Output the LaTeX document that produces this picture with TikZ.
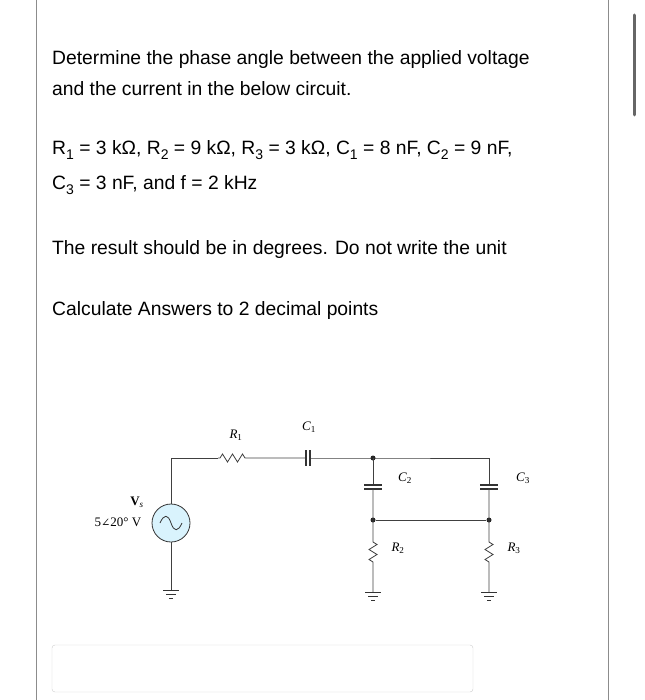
\documentclass[tikz,border=0pt]{standalone}
\usepackage{fontspec}
\setmainfont{Liberation Sans}
\newfontfamily\serif{Liberation Serif}
\newfontfamily\djvserif{DejaVu Serif}
\begin{document}
\begin{tikzpicture}[x=1pt,y=-1pt,
  txt/.style={anchor=west,inner sep=0,font=\fontsize{19.3}{22}\selectfont},
  lab/.style={inner sep=0,font=\serif\itshape\fontsize{13}{15}\selectfont},
  wire/.style={line width=0.8pt,black!75},
  dot/.style={circle,fill=black!85,inner sep=0,minimum size=5pt}]
\useasboundingbox (0,0) rectangle (644,700);
\draw[black!45,line width=0.8pt] (36,0) -- (36,700) (608,0) -- (608,700);
\draw[black!60,line width=3pt,line cap=round] (634,15) -- (634,115);
\newcommand\sbs[1]{\raisebox{-0.45ex}{\fontsize{14}{16}\selectfont #1}}
\node[txt] (t1) at (52,60) {Determine the phase angle between the applied voltage};
\node[txt] (t2) at (52,89) {and the current in the below circuit.};
\node[txt] (t3) at (52,150) {R\sbs1 = 3 kΩ, R\sbs2 = 9 kΩ, R\sbs3 = 3 kΩ, C\sbs1 = 8 nF, C\sbs2 = 9 nF,};
\node[txt] (t4) at (52,185) {C\sbs3 = 3 nF, and f = 2 kHz};
\node[txt] (t5) at (52,250) {The result should be in degrees. Do not write the unit};
\node[txt] (t6) at (52,311) {Calculate Answers to 2 decimal points};
\draw[black!20,rounded corners=3pt] (52,645) rectangle (473,692);
% circuit
\coordinate (tl) at (171,458);
\coordinate (j1) at (373,458);
\coordinate (tr) at (489,458);
\node[circle,draw=black!80,fill=cyan!15,line width=0.8pt,minimum size=38pt,inner sep=0] (vs) at (171,523) {};
\draw[wire] (vs.north) -- (tl) -- (218,458);
\draw[wire] (218,458) -- ++(2,0) -- ++(2.5,-4) -- ++(5,8) -- ++(5,-8) -- ++(5,8) -- ++(5,-8) -- ++(2.5,4) -- (252,458) -- (306,458);
\draw[wire] (310,458) -- (j1) -- (tr);
\draw[line width=1.2pt,black!80] (306,450) -- (306,466) (310,450) -- (310,466);
\draw[black!80,line width=0.8pt] (160,523) .. controls (164,514) and (168,514) .. (171,523) .. controls (174,532) and (178,532) .. (182,523);
\draw[wire] (vs.south) -- (171,590);
\draw[line width=1pt,black!80] (163,590) -- (179,590) (166,594) -- (176,594) (169,598) -- (173,598);
\node[dot] (d1) at (j1) {};
\node[dot] (d2) at (373,520) {};
\node[dot] (d3) at (489,520) {};
\foreach \x/\r in {373/d2,489/d3}{
  \draw[wire] (\x,458) -- (\x,485);
  \draw[line width=1.2pt,black!80] (\x-9,485) -- (\x+9,485) (\x-9,489) -- (\x+9,489);
  \draw[wire] (\x,489) -- (\x,540) -- ++(0,2) -- ++(4,2.5) -- ++(-8,5) -- ++(8,5) -- ++(-8,5) -- ++(4,2.5) -- (\x,592);
  \draw[line width=1pt,black!80] (\x-8,592) -- (\x+8,592) (\x-5,596) -- (\x+5,596) (\x-2,600) -- (\x+2,600);
}
\draw[wire] (d2) -- (d3);
\node[lab] (lr1) at (236,435) {R\textsubscript{\upshape1}};
\node[lab] (lc1) at (309,427) {C\textsubscript{\upshape1}};
\node[lab] (lc2) at (405,478) {C\textsubscript{\upshape2}};
\node[lab] (lc3) at (523,478) {C\textsubscript{\upshape3}};
\node[lab] (lr2) at (398,548) {R\textsubscript{\upshape2}};
\node[lab] (lr3) at (514,548) {R\textsubscript{\upshape3}};
\node[lab,font=\serif\fontsize{13}{15}\selectfont] (lv) at (137,502) {\textbf{V}\textsubscript{\itshape s}};
\node[lab,font=\serif\fontsize{13}{15}\selectfont] (lv2) at (118,522) {5{\djvserif\fontsize{11}{13}\selectfont∠}20° V};
\end{tikzpicture}
\end{document}
